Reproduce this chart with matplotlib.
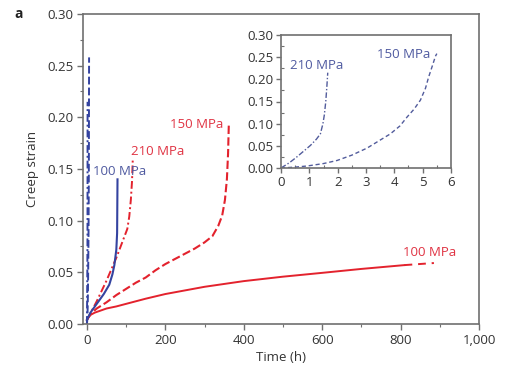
import matplotlib
matplotlib.use("Agg")
import matplotlib.pyplot as plt
from matplotlib.ticker import MultipleLocator, FuncFormatter

plt.rcParams['font.family'] = ['Open Sans', 'DejaVu Sans']

RED = '#e3222d'
BLUE = '#3443a0'
RED_TXT = '#e03343'
BLUE_TXT = '#4f5aa0'
INSET = '#525c9c'
SPINE = '#707070'

# ---- data (main panel, time in h, creep strain) ----
red100_t = [0, 5, 10, 20, 35, 50, 75, 100, 150, 200, 250, 300, 400, 500, 600, 700, 810]
red100_e = [0.004, 0.007, 0.009, 0.011, 0.013, 0.015, 0.017, 0.0195, 0.0245, 0.029, 0.0325, 0.036,
            0.0415, 0.0458, 0.0495, 0.0533, 0.057]
red100_ext_t = [810, 885]
red100_ext_e = [0.057, 0.059]

red150_t = [0, 10, 25, 50, 75, 100, 125, 150, 175, 200, 225, 250, 275, 300, 320, 335, 345, 352, 357, 360, 362]
red150_e = [0.004, 0.010, 0.015, 0.021, 0.028, 0.034, 0.040, 0.045, 0.052, 0.058, 0.063, 0.068, 0.073,
            0.079, 0.085, 0.095, 0.105, 0.12, 0.14, 0.165, 0.195]

red210_t = [0, 10, 25, 50, 76, 94, 103, 108, 112, 115, 117]
red210_e = [0.004, 0.011, 0.022, 0.042, 0.065, 0.083, 0.092, 0.104, 0.12, 0.138, 0.16]

blue100_t = [0, 9, 26, 43, 57, 65, 70, 75, 77, 78]
blue100_e = [0.004, 0.011, 0.020, 0.029, 0.038, 0.048, 0.057, 0.072, 0.088, 0.14]

blue210_t = [0, 0.3, 0.56, 0.8, 1.04, 1.25, 1.39, 1.48, 1.53, 1.58, 1.62, 1.65]
blue210_e = [0, 0.012, 0.025, 0.038, 0.051, 0.065, 0.077, 0.10, 0.12, 0.15, 0.185, 0.215]

blue150_t = [0, 0.5, 0.92, 1.5, 1.98, 2.5, 3.04, 3.5, 3.86, 4.2, 4.45, 4.7, 4.92, 5.1, 5.21, 5.35, 5.45, 5.5]
blue150_e = [0, 0.002, 0.0045, 0.010, 0.017, 0.029, 0.045, 0.063, 0.077, 0.095, 0.115, 0.133, 0.153,
             0.18, 0.205, 0.232, 0.252, 0.258]

main_xticks = [0, 200, 400, 600, 800, 1000]
main_yticks = [0.00, 0.05, 0.10, 0.15, 0.20, 0.25, 0.30]
inset_xticks = [0, 1, 2, 3, 4, 5, 6]

fig = plt.figure(figsize=(5.29, 3.77), dpi=100)
ax = fig.add_axes([83/529, 1-324/377, (479-83)/529, (324-14)/377])

dash150 = (0, (4, 1.6))
dashdot210 = (0, (4, 1.5, 1, 1.5))

ax.plot(red100_t, red100_e, color=RED, lw=1.4, ls='-')
ax.plot(red100_ext_t, red100_ext_e, color=RED, lw=1.4, ls=(0, (4, 3)))
ax.plot(red150_t, red150_e, color=RED, lw=1.5, ls=dash150)
ax.plot(red210_t, red210_e, color=RED, lw=1.4, ls=dashdot210)
ax.plot(blue100_t, blue100_e, color=BLUE, lw=1.5, ls='-')
ax.plot(blue150_t, blue150_e, color=BLUE, lw=1.4, ls=dash150)
ax.plot(blue210_t, blue210_e, color=BLUE, lw=1.4, ls=dashdot210)

fs_lab = 9.5
ax.text(348, 0.193, '150 MPa', color=RED_TXT, fontsize=fs_lab, ha='right', va='center')
ax.text(112, 0.167, '210 MPa', color=RED_TXT, fontsize=fs_lab, ha='left', va='center')
ax.text(15, 0.148, '100 MPa', color=BLUE_TXT, fontsize=fs_lab, ha='left', va='center')
ax.text(806, 0.069, '100 MPa', color=RED_TXT, fontsize=fs_lab, ha='left', va='center')

ax.set_xlim(-10, 1000)
ax.set_ylim(0, 0.30)
ax.set_xticks(main_xticks)
ax.set_yticks(main_yticks)
ax.xaxis.set_minor_locator(MultipleLocator(100))
ax.yaxis.set_minor_locator(MultipleLocator(0.025))
ax.xaxis.set_major_formatter(FuncFormatter(lambda v, p: f'{int(v):,}'))
ax.yaxis.set_major_formatter(FuncFormatter(lambda v, p: f'{v:.2f}'))
ax.set_xlabel('Time (h)', fontsize=9.5, color='#333333', labelpad=3)
ax.set_ylabel('Creep strain', fontsize=9.5, color='#333333', labelpad=6)

for s in ax.spines.values():
    s.set_color(SPINE)
    s.set_linewidth(1.2)
ax.tick_params(which='major', direction='out', length=4, width=1, color=SPINE,
               labelsize=9.5, labelcolor='#333333', pad=3)
ax.tick_params(which='minor', direction='out', length=2.5, width=0.8, color=SPINE)

# ---- inset ----
ins = fig.add_axes([281/529, 1-168/377, (451-281)/529, (168-35)/377])
ins.plot(blue210_t, blue210_e, color=INSET, lw=1.0, ls=(0, (4, 1.5, 1, 1.5)))
ins.plot(blue150_t, blue150_e, color=INSET, lw=1.0, ls=(0, (3, 2)))
ins.text(0.32, 0.232, '210 MPa', color=BLUE_TXT, fontsize=fs_lab, ha='left', va='center')
ins.text(3.39, 0.257, '150 MPa', color=BLUE_TXT, fontsize=fs_lab, ha='left', va='center')
ins.set_xlim(0, 6)
ins.set_ylim(0, 0.30)
ins.set_xticks(inset_xticks)
ins.set_yticks(main_yticks)
ins.xaxis.set_minor_locator(MultipleLocator(0.5))
ins.yaxis.set_minor_locator(MultipleLocator(0.025))
ins.yaxis.set_major_formatter(FuncFormatter(lambda v, p: f'{v:.2f}'))
for s in ins.spines.values():
    s.set_color(SPINE)
    s.set_linewidth(1.2)
ins.tick_params(which='major', direction='out', length=3.5, width=1, color=SPINE,
                labelsize=9.5, labelcolor='#333333', pad=2)
ins.tick_params(which='minor', direction='in', length=2, width=0.8, color=SPINE)

fig.text(14/529, 1-14/377, 'a', fontsize=10, fontweight='bold', color='#222222', ha='left', va='center')

fig.savefig('out.png', dpi=100)
